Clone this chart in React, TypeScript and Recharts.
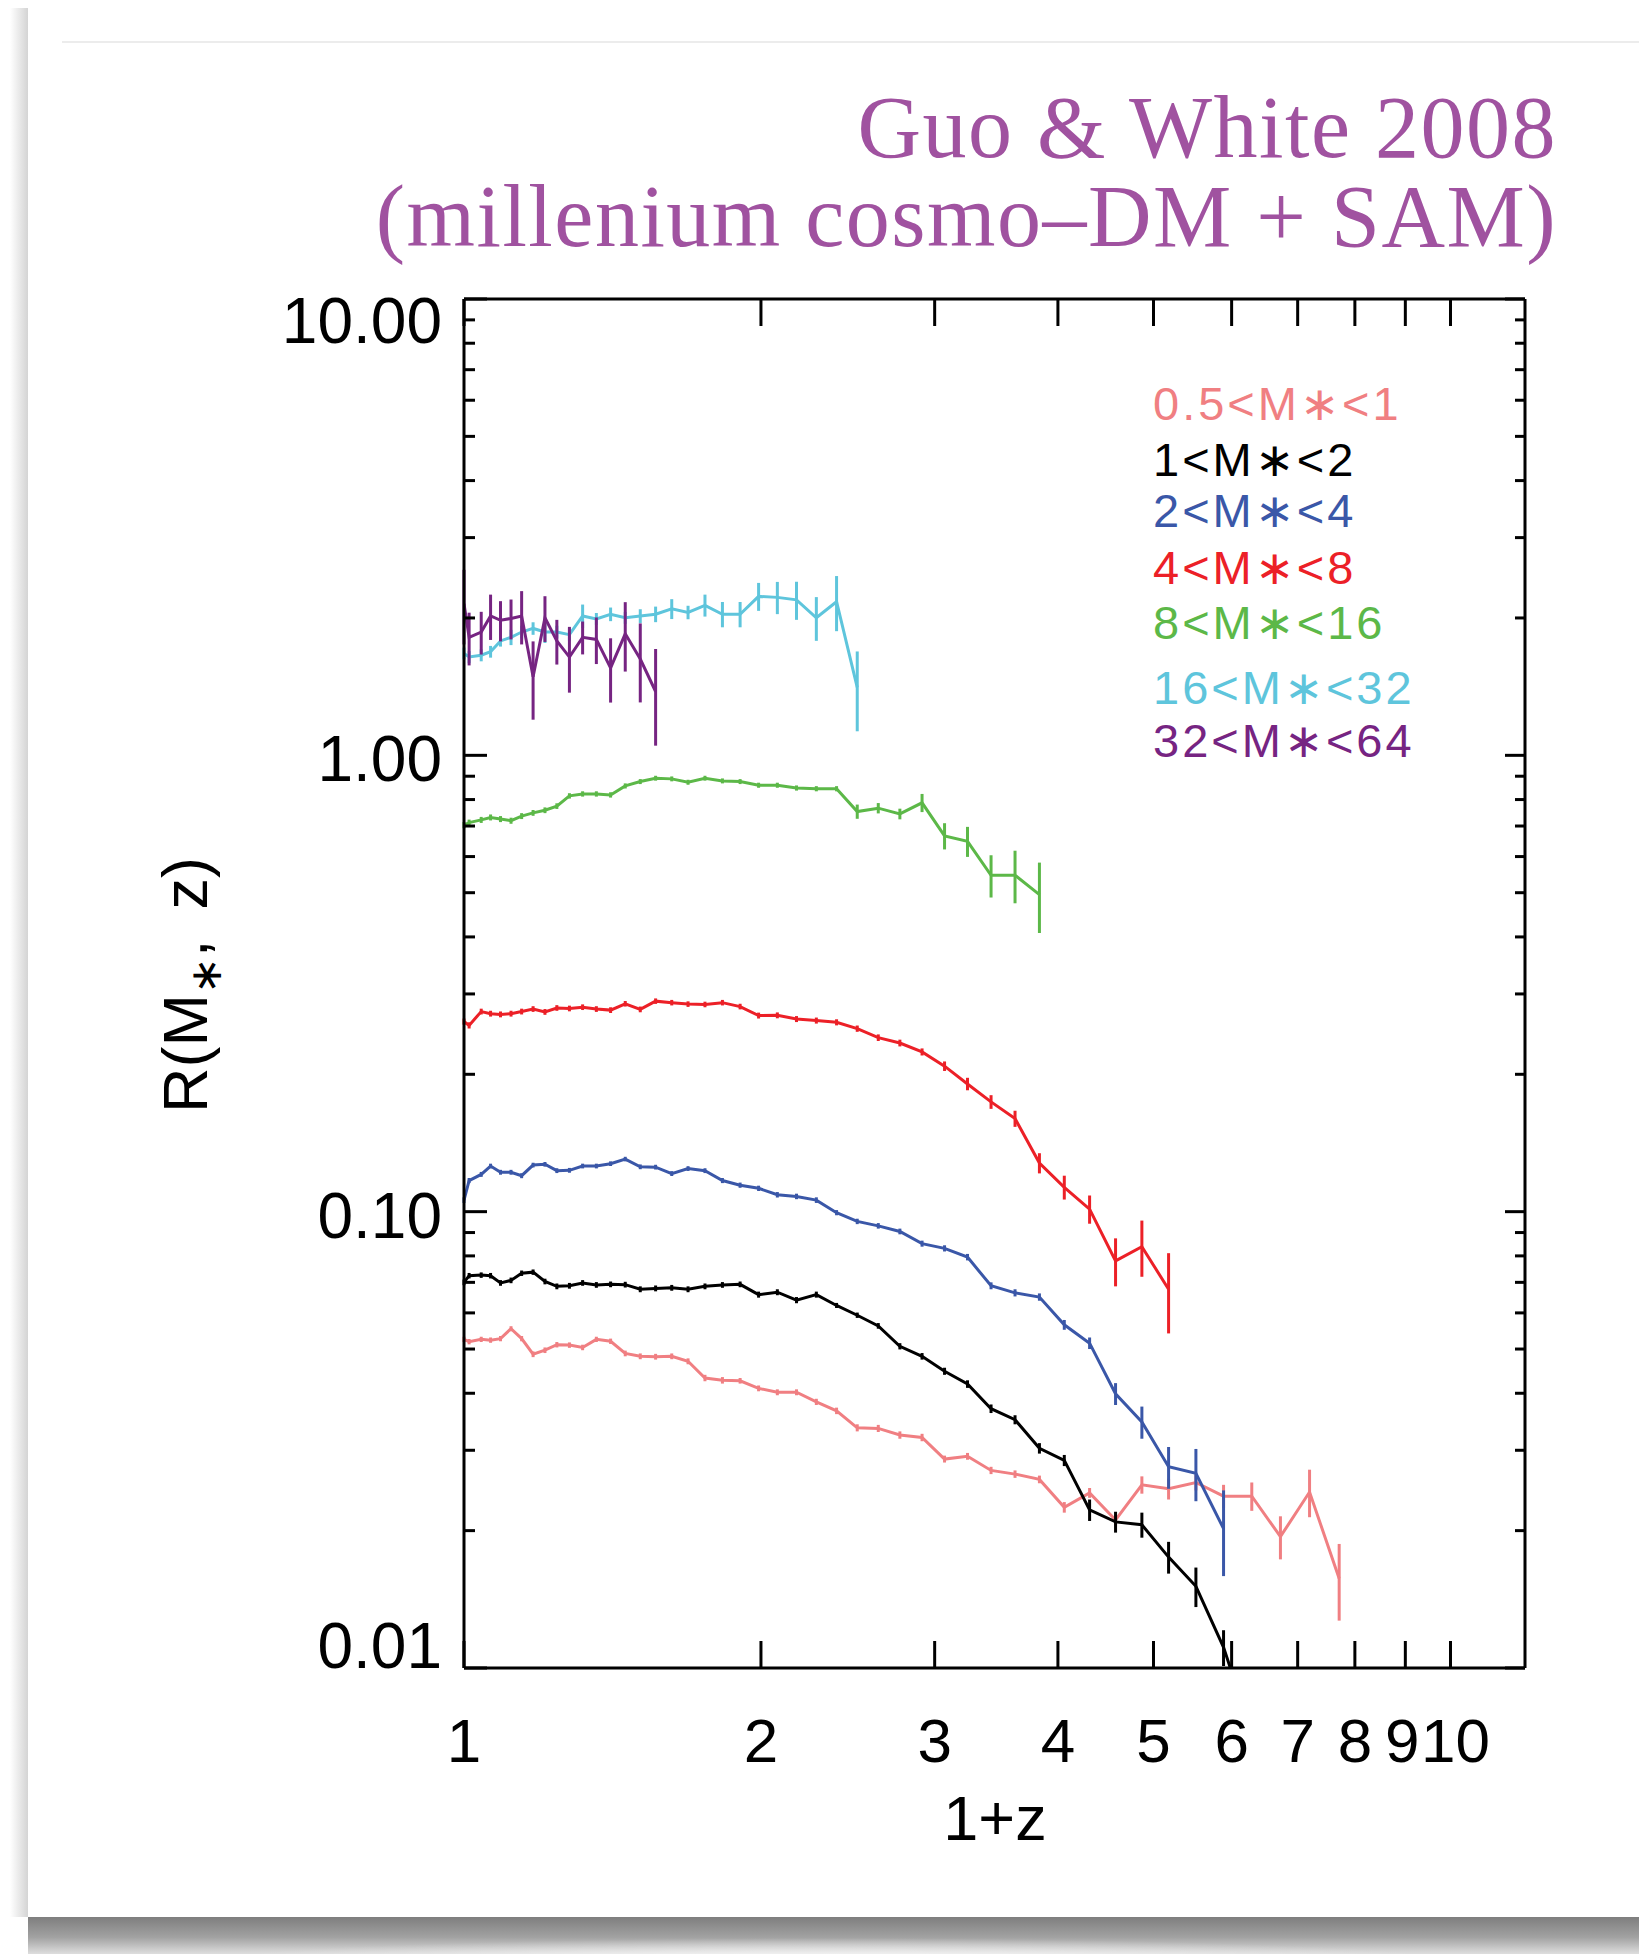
import React from "react";
import { LineChart, Line, XAxis, YAxis, ErrorBar, Legend } from "recharts";

// 1+z of the simulation snapshots, z = 0 first
const onePlusZ = [
  1.0, 1.012, 1.041, 1.064, 1.089, 1.116, 1.144, 1.175, 1.208, 1.242, 1.279, 1.319,
  1.362, 1.408, 1.457, 1.509, 1.564, 1.624, 1.687, 1.755, 1.828, 1.905, 1.989, 2.078,
  2.173, 2.276, 2.386, 2.504, 2.63, 2.766, 2.913, 3.07, 3.239, 3.422, 3.619, 3.831,
  4.06, 4.307, 4.576, 4.866, 5.179, 5.52, 5.888, 6.289, 6.724, 7.197, 7.712,
];

// R(M*, z) per mass bin, and the error of each point
const r05to1 = [
  0.0525, 0.0519, 0.0525, 0.0523, 0.0527, 0.0554, 0.0527, 0.0487, 0.0497, 0.0511, 0.051, 0.0504,
  0.0525, 0.052, 0.0489, 0.0482, 0.0481, 0.0482, 0.047, 0.0432, 0.0427, 0.0426, 0.041, 0.0402,
  0.0402, 0.0383, 0.0366, 0.0336, 0.0335, 0.0324, 0.032, 0.0287, 0.0291, 0.0271, 0.0266, 0.0259,
  0.0225, 0.0242, 0.0211, 0.0252, 0.0247, 0.0255, 0.0238, 0.0238, 0.0194, 0.0243, 0.0157,
];
const e05to1 = [
  0.0007, 0.0007, 0.0007, 0.0007, 0.0007, 0.0007, 0.0007, 0.0007, 0.0007, 0.0007, 0.0007, 0.0007,
  0.0007, 0.0007, 0.0007, 0.0007, 0.0007, 0.0007, 0.0007, 0.0007, 0.0007, 0.0006, 0.0006, 0.0006,
  0.0006, 0.0006, 0.0006, 0.0006, 0.0006, 0.0006, 0.0006, 0.0005, 0.0005, 0.0005, 0.0005, 0.0005,
  0.0006, 0.0006, 0.0006, 0.0011, 0.0013, 0.001, 0.0014, 0.0017, 0.0021, 0.0029, 0.003,
];

const r1to2 = [
  0.07, 0.0724, 0.0726, 0.0724, 0.0698, 0.0707, 0.0733, 0.0737, 0.0703, 0.0686, 0.0688, 0.0698,
  0.0691, 0.0693, 0.0692, 0.0676, 0.0679, 0.0681, 0.0676, 0.0686, 0.0691, 0.0693, 0.0658, 0.0666,
  0.064, 0.0658, 0.0623, 0.0593, 0.0562, 0.0507, 0.0482, 0.0447, 0.0419, 0.037, 0.035, 0.0303,
  0.0285, 0.0222, 0.0209, 0.0206, 0.0175, 0.0151, 0.0111, 0.0072,
];
const e1to2 = [
  0.001, 0.001, 0.001, 0.001, 0.001, 0.001, 0.001, 0.001, 0.001, 0.001, 0.001, 0.001,
  0.001, 0.001, 0.001, 0.001, 0.001, 0.001, 0.001, 0.001, 0.001, 0.001, 0.001, 0.001,
  0.001, 0.001, 0.0008, 0.0008, 0.0008, 0.0008, 0.0008, 0.0008, 0.0008, 0.0008, 0.0008, 0.0008,
  0.0008, 0.0012, 0.0011, 0.0013, 0.0014, 0.0015, 0.001, 0,
];

const r2to4 = [
  0.106, 0.117, 0.1207, 0.1259, 0.122, 0.122, 0.1199, 0.1265, 0.127, 0.123, 0.1232, 0.1259,
  0.1259, 0.1274, 0.1304, 0.1254, 0.1252, 0.1212, 0.1243, 0.123, 0.117, 0.1143, 0.1125, 0.1089,
  0.108, 0.106, 0.0995, 0.0952, 0.0931, 0.0905, 0.0851, 0.0831, 0.0795, 0.0688, 0.0664, 0.065,
  0.0565, 0.0515, 0.0399, 0.0346, 0.0276, 0.0267, 0.0202,
];
const e2to4 = [
  0.0015, 0.0015, 0.0015, 0.0015, 0.0015, 0.0015, 0.0015, 0.0015, 0.0015, 0.0015, 0.0015, 0.0015,
  0.0015, 0.0015, 0.0015, 0.0015, 0.0015, 0.0015, 0.0015, 0.0015, 0.0015, 0.0015, 0.0015, 0.0015,
  0.0015, 0.0015, 0.0013, 0.0013, 0.0013, 0.0013, 0.0013, 0.0013, 0.0013, 0.0012, 0.0012, 0.0012,
  0.0014, 0.0015, 0.0022, 0.0028, 0.0029, 0.0035, 0.0043,
];

const r4to8 = [
  0.261, 0.256, 0.2745, 0.2716, 0.2706, 0.2716, 0.2745, 0.278, 0.274, 0.2795, 0.2788, 0.2806,
  0.278, 0.2765, 0.2855, 0.2775, 0.2893, 0.2871, 0.285, 0.2845, 0.2871, 0.2815, 0.269, 0.2693,
  0.2643, 0.2623, 0.26, 0.2518, 0.2406, 0.2342, 0.2239, 0.2084, 0.1905, 0.174, 0.1599, 0.1278,
  0.1131, 0.1013, 0.078, 0.0838, 0.0676,
];
const e4to8 = [
  0.004, 0.004, 0.004, 0.004, 0.004, 0.004, 0.004, 0.004, 0.004, 0.004, 0.004, 0.004,
  0.004, 0.004, 0.004, 0.004, 0.004, 0.004, 0.004, 0.004, 0.004, 0.004, 0.004, 0.004,
  0.004, 0.004, 0.004, 0.004, 0.004, 0.004, 0.004, 0.005, 0.006, 0.006, 0.0065, 0.0065,
  0.0068, 0.0072, 0.0094, 0.0118, 0.0135,
];

const r8to16 = [
  0.703, 0.712, 0.722, 0.731, 0.725, 0.719, 0.736, 0.748, 0.758, 0.774, 0.815, 0.823,
  0.823, 0.819, 0.857, 0.876, 0.891, 0.888, 0.873, 0.891, 0.879, 0.876, 0.86, 0.86,
  0.848, 0.845, 0.845, 0.753, 0.766, 0.744, 0.787, 0.666, 0.648, 0.546, 0.546, 0.495,
];
const e8to16 = [
  0.011, 0.011, 0.011, 0.011, 0.011, 0.011, 0.011, 0.011, 0.011, 0.011, 0.011, 0.011,
  0.011, 0.011, 0.011, 0.011, 0.011, 0.011, 0.011, 0.011, 0.011, 0.011, 0.011, 0.011,
  0.011, 0.011, 0.011, 0.027, 0.02, 0.02, 0.036, 0.044, 0.049, 0.058, 0.072, 0.087,
];

const r16to32 = [
  1.672, 1.642, 1.657, 1.687, 1.781, 1.814, 1.863, 1.897, 1.863, 1.863, 1.839, 2.02,
  1.991, 2.038, 2.002, 2.02, 2.038, 2.094, 2.057, 2.132, 2.038, 2.038, 2.23, 2.219,
  2.191, 2.002, 2.171, 1.409,
];
const e16to32 = [
  0.05, 0.05, 0.05, 0.05, 0.05, 0.07, 0.06, 0.06, 0.1, 0.06, 0.06, 0.12,
  0.06, 0.07, 0.06, 0.07, 0.08, 0.105, 0.07, 0.118, 0.13, 0.13, 0.157, 0.18,
  0.21, 0.22, 0.3, 0.28,
];

const r32to64 = [
  2.15, 1.814, 1.863, 2.02, 1.977, 1.995, 2.02, 1.487, 2.002, 1.781, 1.642, 1.814,
  1.795, 1.555, 1.846, 1.626, 1.38,
];
const e32to64 = [
  0.4, 0.24, 0.2, 0.23, 0.2, 0.2, 0.27, 0.29, 0.23, 0.2, 0.27, 0.15,
  0.21, 0.25, 0.32, 0.32, 0.33,
];

const binNames = [
  "0.5<M\u2217<1", "1<M\u2217<2", "2<M\u2217<4", "4<M\u2217<8",
  "8<M\u2217<16", "16<M\u2217<32", "32<M\u2217<64",
];
const binColors = ["#f07f82", "#000000", "#3a57a8", "#ec2027", "#5cb848", "#5ec5dc", "#762482"];

const xTicks = [1, 2, 3, 4, 5, 6, 7, 8, 9, 10];
const yTicks = [
  0.01, 0.02, 0.03, 0.04, 0.05, 0.06, 0.07, 0.08, 0.09,
  0.1, 0.2, 0.3, 0.4, 0.5, 0.6, 0.7, 0.8, 0.9,
  1, 2, 3, 4, 5, 6, 7, 8, 9, 10,
];
const yMajor = [0.01, 0.1, 1, 10];
const yMajorLabels = ["0.01", "0.10", "1.00", "10.00"];

const toPoints = (vals: number[], errs: number[]) =>
  vals.map((r, i) => ({ x: onePlusZ[i], r, err: errs[i] }));

const series = [
  toPoints(r05to1, e05to1),
  toPoints(r1to2, e1to2),
  toPoints(r2to4, e2to4),
  toPoints(r4to8, e4to8),
  toPoints(r8to16, e8to16),
  toPoints(r16to32, e16to32),
  toPoints(r32to64, e32to64),
];

const SANS = '"Liberation Sans", Arial, Helvetica, sans-serif';
const SERIF = '"Liberation Serif", "DejaVu Serif", serif';
const legendTops = [0, 56, 107, 164, 219, 284, 337];

const BottomTick = ({ x, y, payload }: any) => {
  // the last two labels sit tight together, as in the original
  const nudge = payload.value === 9 ? -3 : payload.value === 10 ? 5 : 0;
  return (
    <g>
      <line x1={x} y1={y} x2={x} y2={y - 27} stroke="#000" strokeWidth={3} />
      <text x={x + nudge} y={y + 94} textAnchor="middle" fontSize={62} fontFamily={SANS} fill="#000">
        {payload.value}
      </text>
    </g>
  );
};

const TopTick = ({ x, y }: any) => (
  <line x1={x} y1={y} x2={x} y2={y + 27} stroke="#000" strokeWidth={3} />
);

const LeftTick = ({ x, y, payload }: any) => {
  const idx = yMajor.indexOf(payload.value);
  const major = idx >= 0;
  let shift = 4;
  if (payload.value === 10) shift = 22;
  if (payload.value === 0.01) shift = -22;
  return (
    <g>
      <line x1={x} y1={y} x2={x + (major ? 23 : 11)} y2={y} stroke="#000" strokeWidth={3} />
      {major && (
        <text
          x={x - 22}
          y={y + shift}
          textAnchor="end"
          dominantBaseline="central"
          fontSize={64}
          fontFamily={SANS}
          fill="#000"
        >
          {yMajorLabels[idx]}
        </text>
      )}
    </g>
  );
};

const RightTick = ({ x, y, payload }: any) => {
  const major = yMajor.indexOf(payload.value) >= 0;
  return <line x1={x} y1={y} x2={x - (major ? 20 : 10)} y2={y} stroke="#000" strokeWidth={3} />;
};

const LegendBox = ({ payload }: any) => {
  const items = [...(payload || [])].sort(
    (a: any, b: any) => binNames.indexOf(a.value) - binNames.indexOf(b.value)
  );
  return (
    <div style={{ position: "relative", width: 330, height: 400 }}>
      {items.map((p: any, i: number) => (
        <div
          key={p.value}
          style={{
            position: "absolute",
            left: 0,
            top: legendTops[i],
            color: p.color,
            fontFamily: SANS,
            fontSize: 47,
            lineHeight: "47px",
            letterSpacing: 3,
            whiteSpace: "nowrap",
          }}
        >
          {p.value}
        </div>
      ))}
    </div>
  );
};

export default function App() {
  const axisLine = { stroke: "#000", strokeWidth: 3 };
  return (
    <div
      style={{
        position: "absolute",
        left: 0,
        top: 0,
        width: 1639,
        height: 1954,
        background: "#fff",
        overflow: "hidden",
      }}
    >
      {/* page card with its shadow */}
      <div
        style={{
          position: "absolute",
          left: 10,
          top: 8,
          width: 18,
          height: 1909,
          background: "linear-gradient(to right, #ffffff, #d4d4d4)",
        }}
      />
      <div
        style={{
          position: "absolute",
          left: 28,
          top: 1917,
          width: 1611,
          height: 37,
          background:
            "radial-gradient(ellipse 55% 90% at 50% 120%, rgba(255,255,255,0.8), rgba(255,255,255,0) 70%), linear-gradient(to bottom, #7e7e7e, #a2a2a2 55%, #dedede)",
        }}
      />
      <div
        style={{ position: "absolute", left: 62, top: 41, width: 1577, height: 2, background: "#ececec" }}
      />

      <div style={{ position: "absolute", left: 0, top: 0 }}>
        <LineChart width={1639} height={1954} margin={{ top: 298, right: 113, bottom: 285, left: 463 }}>
          <XAxis
            dataKey="x"
            type="number"
            scale="log"
            domain={[1, 11.9]}
            allowDataOverflow
            ticks={xTicks}
            interval={0}
            height={1}
            tickSize={0}
            tickMargin={0}
            tickLine={false}
            axisLine={axisLine}
            tick={(p: any) => <BottomTick {...p} />}
          />
          <XAxis
            xAxisId="top"
            orientation="top"
            dataKey="x"
            type="number"
            scale="log"
            domain={[1, 11.9]}
            allowDataOverflow
            ticks={xTicks}
            interval={0}
            height={1}
            tickSize={0}
            tickMargin={0}
            tickLine={false}
            axisLine={axisLine}
            tick={(p: any) => <TopTick {...p} />}
          />
          <YAxis
            type="number"
            scale="log"
            domain={[0.01, 10]}
            allowDataOverflow
            ticks={yTicks}
            interval={0}
            width={1}
            tickSize={0}
            tickMargin={0}
            tickLine={false}
            axisLine={axisLine}
            tick={(p: any) => <LeftTick {...p} />}
          />
          <YAxis
            yAxisId="right"
            orientation="right"
            type="number"
            scale="log"
            domain={[0.01, 10]}
            allowDataOverflow
            ticks={yTicks}
            interval={0}
            width={1}
            tickSize={0}
            tickMargin={0}
            tickLine={false}
            axisLine={axisLine}
            tick={(p: any) => <RightTick {...p} />}
          />
          {series.map((pts, i) => (
            <Line
              key={binNames[i]}
              data={pts}
              dataKey="r"
              name={binNames[i]}
              type="linear"
              stroke={binColors[i]}
              strokeWidth={3}
              dot={false}
              activeDot={false}
              isAnimationActive={false}
            >
              <ErrorBar
                dataKey="err"
                direction="y"
                width={0}
                stroke={binColors[i]}
                strokeWidth={3}
                isAnimationActive={false}
              />
            </Line>
          ))}
          <Legend
            layout="vertical"
            align="center"
            verticalAlign="middle"
            content={<LegendBox />}
            wrapperStyle={{ left: 1153, top: 380, width: 330, height: 400 }}
          />
        </LineChart>
      </div>

      {/* title and axis titles */}
      <svg
        width={1639}
        height={1954}
        style={{ position: "absolute", left: 0, top: 0, pointerEvents: "none" }}
      >
        <text
          x={1557}
          y={157}
          textAnchor="end"
          fontFamily={SERIF}
          fontSize={88}
          letterSpacing={1.5}
          fill="#a052a0"
        >
          {"Guo & White 2008"}
        </text>
        <text
          x={1557}
          y={246}
          textAnchor="end"
          fontFamily={SERIF}
          fontSize={88}
          letterSpacing={1.5}
          fill="#a052a0"
        >
          {"(millenium cosmo\u2013DM + SAM)"}
        </text>
        <text x={995} y={1840} textAnchor="middle" fontFamily={SANS} fontSize={63} fill="#000">
          1+z
        </text>
        <text
          x={207}
          y={985}
          transform="rotate(-90 207 985)"
          textAnchor="middle"
          fontFamily={SANS}
          fontSize={63}
          fill="#000"
        >
          {"R(M"}
          <tspan fontSize={44} dy={14}>
            {"\u2217"}
          </tspan>
          <tspan dy={-14}>,</tspan>
          <tspan dx={30}>{"z)"}</tspan>
        </text>
      </svg>
    </div>
  );
}
